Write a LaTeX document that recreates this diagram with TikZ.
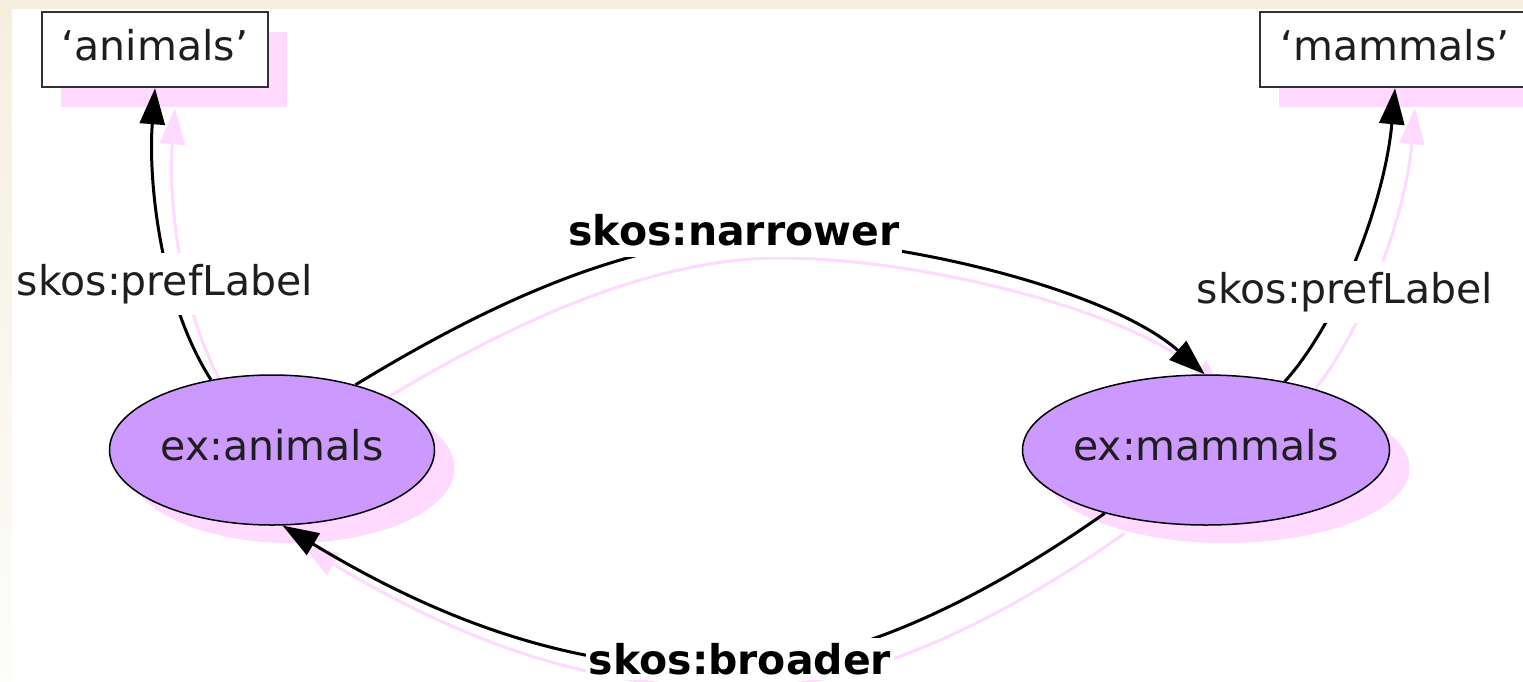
\documentclass[tikz,border=0pt]{standalone}
\usepackage{fontspec}
\setmainfont{DejaVu Sans}
\usetikzlibrary{arrows.meta,shapes.geometric,shadows}
\pgfdeclarelayer{back}
\pgfdeclarelayer{bg}
\pgfsetlayers{back,bg,main}
\definecolor{cream}{RGB}{246,239,224}
\definecolor{shpink}{RGB}{255,217,255}
\definecolor{nodefill}{RGB}{204,153,255}
\definecolor{boxline}{RGB}{50,50,50}
\definecolor{textcol}{RGB}{30,30,30}
\begin{document}
\begin{tikzpicture}[x=1pt,y=-1pt,
  bigfont/.style={font=\fontsize{41}{49}\selectfont},
  concept/.style={ellipse, draw=black, line width=1.5pt, fill=nodefill,
    inner sep=0pt, minimum height=150pt, text height=20pt, text depth=0pt,
    bigfont, text=textcol,
    general shadow={fill=shpink, shadow xshift=20pt, shadow yshift=-18pt}},
  literal/.style={rectangle, draw=boxline, line width=2.5pt, fill=white,
    inner sep=0pt, minimum height=75pt, text height=21pt, text depth=0pt,
    bigfont, text=textcol,
    general shadow={fill=shpink, shadow xshift=19pt, shadow yshift=-20pt}},
  elabel/.style={fill=white, inner xsep=3pt, inner ysep=11pt, anchor=base, bigfont, text=textcol},
  blabel/.style={fill=white, inner xsep=3pt, inner ysep=11pt, anchor=base,
    font=\fontsize{41}{49}\selectfont\bfseries, text=black},
  rel/.style={draw=black, line width=3pt, -{Triangle[length=36pt,width=25pt]}},
  relshadow/.style={draw=shpink, line width=3pt, -{Triangle[length=36pt,width=25pt]}}
]
\useasboundingbox (0,0) rectangle (1523,681);
\clip (0,0) rectangle (1523,681);
\begin{pgfonlayer}{back}
  \fill[white] (0,0) rectangle (1523,681);
  \fill[cream] (0,0) rectangle (1523,9);
  \shade[top color=cream, bottom color=cream!15] (0,9) rectangle (12,681);
\end{pgfonlayer}

% nodes
\node[concept, minimum width=325pt] (ea) at (272,450) {\makebox[0pt]{ex:animals}};
\node[concept, minimum width=367pt] (em) at (1206,450) {\makebox[0pt]{ex:mammals}};
\node[literal, minimum width=226pt] (ba) at (155,49.5) {‘animals’};
\node[literal, minimum width=270pt] (bm) at (1395,49.5) {‘mammals’};

\coordinate (narTop) at (760,238);
\coordinate (broBot) at (720,668);

% edge shadows
\begin{pgfonlayer}{bg}
\begin{scope}[transform canvas={shift={(20pt,-20pt)}}]
  \draw[relshadow] (ea.131) .. controls (160,300) and (148,180) .. (ba.south);
  \draw[relshadow] (em.41.5) .. controls (1340,320) and (1385,200) .. (bm.south);
  \draw[relshadow] (ea.38) .. controls (470,315) and (620,238) .. (narTop)
     .. controls (900,238) and (1110,290) .. (em.91);
  \draw[relshadow] (em.212) .. controls (960,615) and (830,668) .. (broBot)
     .. controls (610,668) and (480,645) .. (ea.-82);
\end{scope}
\end{pgfonlayer}

% edges
\draw[rel] (ea.131) .. controls (160,300) and (148,180) .. (ba.south);
\draw[rel] (em.41.5) .. controls (1340,320) and (1385,200) .. (bm.south);
\draw[rel] (ea.38) .. controls (470,315) and (620,238) .. (narTop)
   .. controls (900,238) and (1110,290) .. (em.91);
\draw[rel] (em.212) .. controls (960,615) and (830,668) .. (broBot)
   .. controls (610,668) and (480,645) .. (ea.-82);

% edge labels
\node[elabel] (pl1) at (165,295) {skos:prefLabel};
\node[elabel] (pl2) at (1345,303) {skos:prefLabel};
\node[blabel] (nar) at (734,245) {skos:narrower};
\node[blabel, inner ysep=5pt] (bro) at (740,674) {skos:broader};
\end{tikzpicture}
\end{document}
